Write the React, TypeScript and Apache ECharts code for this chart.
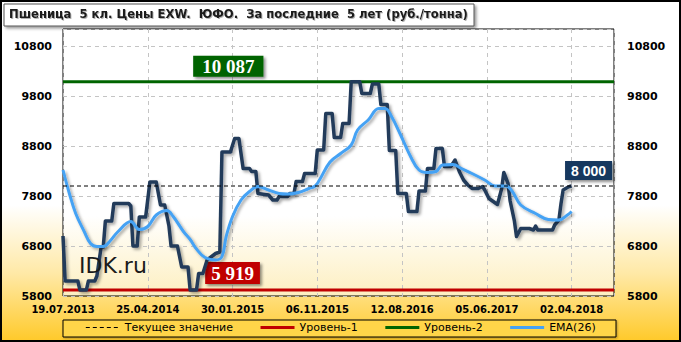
import React, { useEffect, useRef } from 'react';
import * as echarts from 'echarts';

const titleText = 'Пшеница  5 кл. Цены EXW.  ЮФО.  За последние  5 лет (руб./тонна)';
const tickLabels = ['19.07.2013', '25.04.2014', '30.01.2015', '06.11.2015', '12.08.2016', '05.06.2017', '02.04.2018'];

const priceWeeks = [
  0, 1, 7, 8, 11, 12, 15, 16, 18, 19, 20, 23, 24, 31, 32, 33, 35, 36, 39, 41,
  44, 46, 48, 50, 51, 54, 56, 59, 60, 63, 64, 66, 68, 72, 74, 75, 79, 81, 83, 85,
  88, 89, 91, 92, 97, 99, 101, 102, 106, 107, 109, 110, 113, 114, 119, 120, 123, 124, 127, 128,
  131, 132, 135, 136, 140, 141, 145, 146, 149, 150, 153, 154, 157, 158, 162, 163, 167, 168, 171, 172,
  175, 176, 179, 180, 183, 185, 187, 189, 191, 193, 196, 198, 199, 201, 203, 205, 207, 208, 210, 211,
  213, 214, 216, 220, 222, 223, 224, 231, 232, 234, 235, 236, 238, 239, 240,
];
const priceValues = [
  7000, 6100, 6100, 5919, 5919, 6100, 6100, 6200, 6780, 6780, 7300, 7300, 7650, 7650, 7600, 6800, 6800, 7380, 7380, 8080,
  8080, 7620, 7620, 7200, 6800, 6800, 6380, 6380, 5919, 5919, 6250, 6250, 6520, 6650, 6680, 8680, 8680, 8950, 8950, 8350,
  8350, 8290, 8290, 7850, 7820, 7720, 7720, 7790, 7790, 7850, 7850, 8090, 8090, 8250, 8250, 8720, 8720, 9450, 9450, 8970,
  8970, 9250, 9250, 10087, 10087, 9850, 9850, 10040, 10040, 9630, 9630, 8710, 8710, 7850, 7850, 7490, 7490, 7900, 7900, 8350,
  8350, 8750, 8750, 8390, 8390, 8520, 8290, 8120, 8020, 7950, 7950, 7990, 7920, 7750, 7690, 7630, 7950, 8270, 8050, 7700,
  7300, 6990, 7150, 7150, 7120, 7200, 7120, 7120, 7220, 7320, 7650, 7920, 7970, 7990, 8000,
];

const emaWeeks = [
  0, 3, 6, 10, 13, 16, 19, 22, 26, 32, 36, 40, 44, 49, 52, 57, 60, 63, 67, 72,
  75, 77, 80, 84, 88, 92, 97, 102, 106, 111, 116, 119, 121, 126, 131, 136, 139, 144, 149, 152,
  155, 159, 164, 168, 172, 176, 179, 184, 188, 193, 199, 204, 209, 212, 216, 223, 229, 234, 238, 240,
];
const emaValues = [
  8320, 7850, 7450, 7090, 6850, 6790, 6790, 6890, 7090, 7290, 7130, 7190, 7420, 7510, 7390, 7080, 6930, 6740, 6570, 6520,
  6590, 6990, 7390, 7720, 7890, 7990, 7920, 7850, 7840, 7870, 7950, 8000, 8120, 8480, 8650, 8820, 9120, 9320, 9550, 9550,
  9390, 9050, 8590, 8320, 8270, 8290, 8420, 8430, 8350, 8250, 8120, 8000, 8000, 7890, 7620, 7450, 7330, 7320, 7420, 7490,
];

const level1 = 5919;
const level2 = 10087;
const currentValue = 8000;
const level1LabelAt = 80;
const level2LabelAt = 78;
const currentLabelAt = 248;

const yMin = 5800;
const yMax = 11140;
const yStep = 1000;
const xMin = 0;
const xMax = 260;
const xStep = 40;

const fmt = (v: number) => String(v).replace(/\B(?=(\d{3})+(?!\d))/g, ' ');

const boxLabel = (bg: string, font: string, size: number, lh: number, pad: number[], dist: number) => ({
  show: true,
  position: 'top',
  distance: dist,
  color: '#ffffff',
  fontFamily: font,
  fontWeight: 'bold',
  fontSize: size,
  lineHeight: lh,
  padding: pad,
  backgroundColor: bg,
  shadowColor: 'rgba(0,0,0,0.45)',
  shadowBlur: 3,
  shadowOffsetX: 2,
  shadowOffsetY: 2,
});

const lineShadow = {
  shadowColor: 'rgba(0,0,0,0.35)',
  shadowBlur: 3,
  shadowOffsetX: 2,
  shadowOffsetY: 2,
};

export default function App() {
  const ref = useRef<HTMLDivElement>(null);
  useEffect(() => {
    if (!ref.current) return;
    const chart = echarts.init(ref.current, undefined, { renderer: 'svg' });
    const priceData = priceWeeks.map((w, i) => [w, priceValues[i]]);
    const emaData = emaWeeks.map((w, i) => [w, emaValues[i]]);
    const axisFont = { fontFamily: 'DejaVu Sans', fontWeight: 'bold' as const, color: '#000' };
    const yAxisBase = {
      type: 'value' as const,
      min: yMin,
      max: yMax,
      interval: yStep,
      axisLine: { show: false },
      axisTick: { show: false },
    };
    chart.setOption({
      animation: false,
      backgroundColor: new echarts.graphic.LinearGradient(0, 0, 0, 1, [
        { offset: 0, color: '#ffffff' },
        { offset: 0.6, color: '#ffffff' },
        { offset: 0.8, color: '#ffe9a6' },
        { offset: 1, color: '#ffc928' },
      ]),
      title: {
        text: titleText,
        left: 9,
        top: 8,
        padding: 0,
        textStyle: {
          fontFamily: 'DejaVu Sans',
          fontSize: 11.6,
          fontWeight: 'bold',
          color: '#1a1a1a',
          textShadowColor: 'rgba(0,0,0,0.3)',
          textShadowOffsetX: 1,
          textShadowOffsetY: 1,
          textShadowBlur: 1,
        },
      },
      graphic: [
        {
          type: 'rect',
          z: -1,
          shape: { x: 1, y: 1, width: 679, height: 340 },
          style: { fill: 'none', stroke: '#000', lineWidth: 2 },
        },
        {
          type: 'rect',
          z: -1,
          shape: { x: 4, y: 4, width: 470, height: 22 },
          style: {
            fill: '#ffffff',
            stroke: '#555',
            lineWidth: 1,
            shadowColor: 'rgba(0,0,0,0.4)',
            shadowBlur: 3,
            shadowOffsetX: 2,
            shadowOffsetY: 2,
          },
        },
        {
          type: 'rect',
          z: -1,
          shape: { x: 63, y: 320, width: 553, height: 17 },
          style: {
            fill: '#ffd548',
            stroke: '#000',
            lineWidth: 1,
            shadowColor: 'rgba(0,0,0,0.3)',
            shadowBlur: 2,
            shadowOffsetX: 1,
            shadowOffsetY: 1,
          },
        },
        {
          type: 'text',
          z: 10,
          left: 79,
          top: 254,
          style: { text: 'IDK.ru', fontFamily: 'DejaVu Sans', fontSize: 22, fill: '#1a1a1a' },
        },
      ],
      legend: {
        left: 'center',
        top: 322,
        padding: 0,
        itemWidth: 34,
        itemHeight: 10,
        itemGap: 26,
        itemStyle: { opacity: 0 },
        lineStyle: { width: 3 },
        data: [
          { name: 'Текущее значение', lineStyle: { width: 1 } },
          'Уровень-1',
          'Уровень-2',
          'EMA(26)',
        ],
        textStyle: { fontFamily: 'DejaVu Sans', fontSize: 11, color: '#000' },
      },
      grid: {
        left: 63,
        top: 29,
        right: 67,
        bottom: 46,
        show: true,
        borderColor: '#000',
        borderWidth: 1,
        backgroundColor: new echarts.graphic.LinearGradient(0, 0, 0, 1, [
          { offset: 0, color: '#ffffff' },
          { offset: 0.7, color: '#ffffff' },
          { offset: 1, color: '#fdefc0' },
        ]),
      },
      xAxis: {
        type: 'value',
        min: xMin,
        max: xMax,
        interval: xStep,
        axisLine: { show: false },
        axisTick: { show: false },
        splitLine: { show: true, lineStyle: { color: '#c4c4c4', type: [4, 4], width: 1 } },
        axisLabel: {
          ...axisFont,
          fontSize: 10,
          margin: 8,
          showMaxLabel: false,
          formatter: (v: number) => (v % xStep === 0 ? tickLabels[v / xStep] ?? '' : ''),
        },
      },
      yAxis: [
        {
          ...yAxisBase,
          position: 'left',
          splitLine: { show: true, lineStyle: { color: '#c4c4c4', type: [4, 4], width: 1 } },
          axisLabel: { ...axisFont, fontSize: 11, margin: 11, showMaxLabel: false, formatter: (v: number) => String(v) },
        },
        {
          ...yAxisBase,
          position: 'right',
          splitLine: { show: false },
          axisLabel: { ...axisFont, fontSize: 11, margin: 13, showMaxLabel: false, formatter: (v: number) => String(v) },
        },
      ],
      series: [
        {
          name: 'Уровень-1',
          type: 'line',
          symbol: 'none',
          z: 5,
          data: [[xMin, level1], [xMax, level1]],
          lineStyle: { color: '#c00000', width: 3 },
          itemStyle: { color: '#c00000' },
          markPoint: {
            symbol: 'circle',
            symbolSize: 0,
            data: [{ coord: [level1LabelAt, level1] }],
            label: { ...boxLabel('#c00000', 'Liberation Serif', 19, 20, [1, 6, 1, 6], 6), formatter: fmt(level1) },
          },
        },
        {
          name: 'Уровень-2',
          type: 'line',
          symbol: 'none',
          z: 5,
          data: [[xMin, level2], [xMax, level2]],
          lineStyle: { color: '#006400', width: 3 },
          itemStyle: { color: '#006400' },
          markPoint: {
            symbol: 'circle',
            symbolSize: 0,
            data: [{ coord: [level2LabelAt, level2] }],
            label: { ...boxLabel('#006400', 'Liberation Serif', 19, 19, [1, 9, 1, 9], 5), formatter: fmt(level2) },
          },
        },
        {
          name: 'Цена',
          type: 'line',
          symbol: 'none',
          z: 6,
          data: priceData,
          lineStyle: { color: '#223a5a', width: 3.5, join: 'round', ...lineShadow },
          itemStyle: { color: '#223a5a' },
        },
        {
          name: 'EMA(26)',
          type: 'line',
          symbol: 'none',
          smooth: 0.4,
          z: 7,
          data: emaData,
          lineStyle: { color: '#45a2f4', width: 3, ...lineShadow },
          itemStyle: { color: '#45a2f4' },
        },
        {
          name: 'Текущее значение',
          type: 'line',
          symbol: 'none',
          z: 8,
          data: [[xMin, currentValue], [xMax, currentValue]],
          lineStyle: { color: '#000', width: 1, type: [4, 3] },
          itemStyle: { color: '#000' },
          markPoint: {
            symbol: 'circle',
            symbolSize: 0,
            data: [{ coord: [currentLabelAt, currentValue] }],
            label: { ...boxLabel('#17375e', 'Liberation Sans', 14, 15, [2, 6, 2, 6], 6), formatter: fmt(currentValue) },
          },
        },
      ],
    });
    return () => chart.dispose();
  }, []);
  return <div ref={ref} style={{ position: 'fixed', left: 0, top: 0, width: 681, height: 342 }} />;
}
